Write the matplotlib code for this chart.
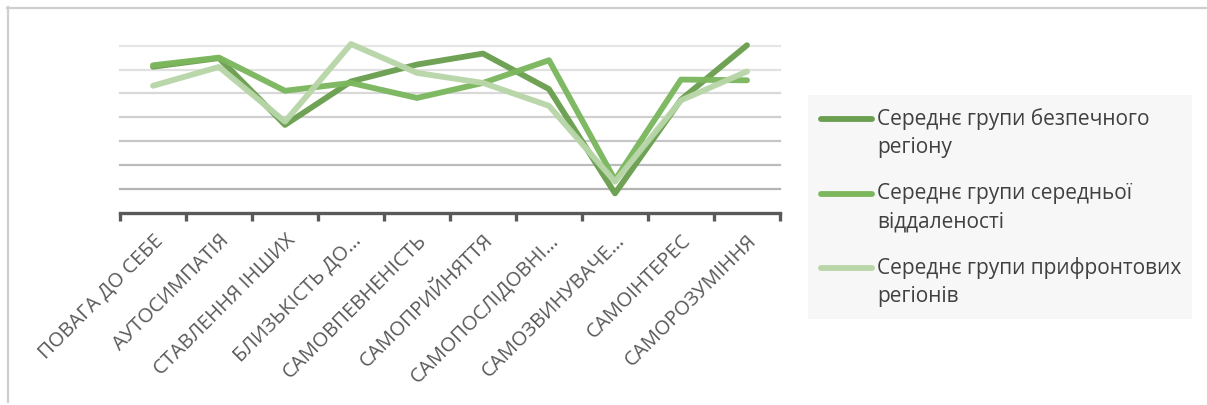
import matplotlib
matplotlib.use("Agg")
import matplotlib.pyplot as plt
from matplotlib.lines import Line2D
import numpy as np

plt.rcParams['font.family'] = ['Open Sans', 'DejaVu Sans']

categories = ['ПОВАГА ДО СЕБЕ', 'АУТОСИМПАТІЯ', 'СТАВЛЕННЯ ІНШИХ', 'БЛИЗЬКІСТЬ ДО…',
              'САМОВПЕВНЕНІСТЬ', 'САМОПРИЙНЯТТЯ', 'САМОПОСЛІДОВНІ…', 'САМОЗВИНУВАЧЕ…',
              'САМОІНТЕРЕС', 'САМОРОЗУМІННЯ']

safe_region = [6.12, 6.48, 3.68, 5.50, 6.21, 6.67, 5.18, 0.81, 4.74, 7.02]
middle_distance = [6.18, 6.50, 5.11, 5.44, 4.81, 5.44, 6.39, 1.37, 5.58, 5.55]
frontline_regions = [5.32, 6.11, 3.82, 7.07, 5.86, 5.44, 4.48, 1.30, 4.71, 5.92]

series_names = [("Середнє групи безпечного", "регіону"),
                ("Середнє групи середньої", "віддаленості"),
                ("Середнє групи прифронтових", "регіонів")]
series_colors = ['#6b9f50', '#7cb75e', '#b8d6a8']

W, H = 1207, 405
fig = plt.figure(figsize=(W / 100, H / 100), dpi=100)
fig.patch.set_facecolor('white')

# plot area in pixel units
px_left, px_right, px_top, px_bottom = 120, 780, 45.7, 212.7
ax = fig.add_axes([px_left / W, 1 - px_bottom / H, (px_right - px_left) / W, (px_bottom - px_top) / H])
ax.set_facecolor('none')

x = np.arange(len(categories))
ax.set_xlim(-0.5, len(categories) - 0.5)
ax.set_ylim(0, 7)

# horizontal gridlines, darker toward the baseline
grid_levels = np.arange(1, 8)
grid_cols = ['#b4b4b4', '#bcbcbc', '#c6c6c6', '#d0d0d0', '#d9d9d9', '#e1e1e1', '#e6e6e6']
for lvl, c in zip(grid_levels, grid_cols):
    ax.axhline(lvl, color=c, lw=1.6, zorder=1, clip_on=False)

for vals, col, z in zip([safe_region, middle_distance, frontline_regions], series_colors, [3, 4, 5]):
    ax.plot(x, vals, color=col, lw=4.2, solid_capstyle='round', solid_joinstyle='round',
            zorder=z, clip_on=False, alpha=0.97)

for s in ['top', 'right', 'left']:
    ax.spines[s].set_visible(False)
ax.spines['bottom'].set_color('#595959')
ax.spines['bottom'].set_linewidth(2.4)
ax.set_yticks([])

ax.set_xticks(x)
ax.set_xticklabels(categories, rotation=45, ha='right', va='top', rotation_mode='anchor',
                   fontsize=14.5, color='#595959')
ax.tick_params(axis='x', which='major', length=0, pad=13)
ax.set_xticks(np.arange(-0.5, len(categories)), minor=True)
ax.tick_params(axis='x', which='minor', length=6, width=2.4, color='#595959', direction='out')

# legend panel
lax = fig.add_axes([808 / W, 1 - 319 / H, (1192 - 808) / W, (319 - 95) / H])
lax.set_xlim(808, 1192)
lax.set_ylim(319, 95)
lax.set_facecolor('#f7f7f7')
lax.set_xticks([])
lax.set_yticks([])
for s in lax.spines.values():
    s.set_visible(False)
rows = [119, 194, 268]
for (l1, l2), col, yy in zip(series_names, series_colors, rows):
    lax.plot([821, 872], [yy, yy], color=col, lw=4.2, solid_capstyle='round')
    lax.text(877, yy, l1, fontsize=15, color='#404040', va='center', ha='left')
    lax.text(877, yy + 28.5, l2, fontsize=15, color='#404040', va='center', ha='left')

# outer frame edges
fig.add_artist(Line2D([7 / W, 1.0], [1 - 7.5 / H, 1 - 7.5 / H], transform=fig.transFigure,
                      color='#cfcfcf', lw=1.6))
fig.add_artist(Line2D([7.5 / W, 7.5 / W], [1 - 7 / H, 1 - 402 / H], transform=fig.transFigure,
                      color='#cfcfcf', lw=1.6))

fig.savefig('out.png', dpi=100, facecolor='white')
